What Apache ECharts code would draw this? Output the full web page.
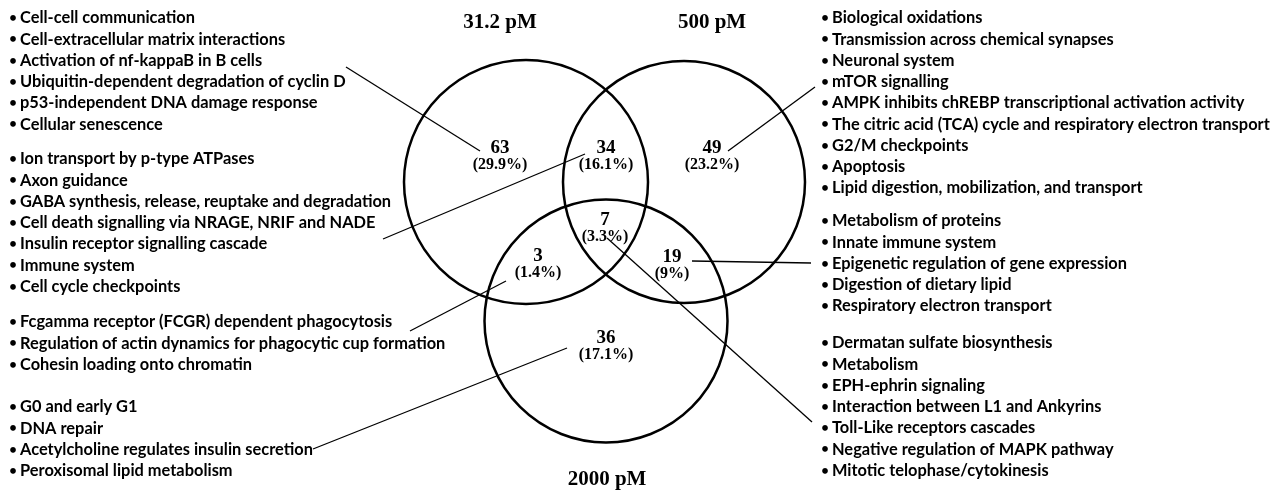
<!DOCTYPE html>
<html>
<head>
<meta charset="utf-8">
<script src="https://cdn.jsdelivr.net/npm/echarts@6/dist/echarts.min.js"></script>
<style>
  html, body { margin: 0; padding: 0; background: #fff; }
  #chart { width: 1282px; height: 491px; }
</style>
</head>
<body>
<div id="chart"></div>
<script>
// 三个浓度集合
var setNames = ['31.2 pM', '500 pM', '2000 pM'];
// 各区域: 仅31.2, 31.2∩500, 仅500, 31.2∩2000, 三者交集, 500∩2000, 仅2000
var regionCounts = [63, 34, 49, 3, 7, 19, 36];
var regionPercents = ['29.9%', '16.1%', '23.2%', '1.4%', '3.3%', '9%', '17.1%'];

// 通路列表
var listOnly31 = [
  'Cell-cell communication',
  'Cell-extracellular matrix interactions',
  'Activation of nf-kappaB in B cells',
  'Ubiquitin-dependent degradation of cyclin D',
  'p53-independent DNA damage response',
  'Cellular senescence'
];
var list31And500 = [
  'Ion transport by p-type ATPases',
  'Axon guidance',
  'GABA synthesis, release, reuptake and degradation',
  'Cell death signalling via NRAGE, NRIF and NADE',
  'Insulin receptor signalling cascade',
  'Immune system',
  'Cell cycle checkpoints'
];
var list31And2000 = [
  'Fcgamma receptor (FCGR) dependent phagocytosis',
  'Regulation of actin dynamics for phagocytic cup formation',
  'Cohesin loading onto chromatin'
];
var listOnly2000 = [
  'G0 and early G1',
  'DNA repair',
  'Acetylcholine regulates insulin secretion',
  'Peroxisomal lipid metabolism'
];
var listOnly500 = [
  'Biological oxidations',
  'Transmission across chemical synapses',
  'Neuronal system',
  'mTOR signalling',
  'AMPK inhibits chREBP transcriptional activation activity',
  'The citric acid (TCA) cycle and respiratory electron transport',
  'G2/M checkpoints',
  'Apoptosis',
  'Lipid digestion, mobilization, and transport'
];
var list500And2000 = [
  'Metabolism of proteins',
  'Innate immune system',
  'Epigenetic regulation of gene expression',
  'Digestion of dietary lipid',
  'Respiratory electron transport'
];
var listAllThree = [
  'Dermatan sulfate biosynthesis',
  'Metabolism',
  'EPH-ephrin signaling',
  'Interaction between L1 and Ankyrins',
  'Toll-Like receptors cascades',
  'Negative regulation of MAPK pathway',
  'Mitotic telophase/cytokinesis'
];

// ---- 布局 (像素坐标, 隐藏坐标轴) ----
var W = 1282, H = 491;
var circles = [[526, 182, 122], [684, 182, 121], [606, 321, 121.5]];
var titlePos = [[500, 23], [712, 23], [607, 480]];
var regionPos = [[500, 156], [606, 156], [712, 156], [538, 264], [605, 228], [672, 265], [606, 346]];
var lineStep = 21.25;
var listLayout = [
  { items: listOnly31, x: 20, y: 18 },
  { items: list31And500, x: 20, y: 159 },
  { items: list31And2000, x: 20, y: 322 },
  { items: listOnly2000, x: 20, y: 407 },
  { items: listOnly500, x: 832, y: 18 },
  { items: list500And2000, x: 832, y: 221 },
  { items: listAllThree, x: 832, y: 343 }
];
// 引线: 区域标签 -> 列表
var leaders = [
  [[480, 151], [346, 67]],
  [[585, 154], [383, 239]],
  [[728, 151], [815, 87]],
  [[506, 281], [410, 331]],
  [[567, 348], [313, 449]],
  [[692, 261], [811, 263]],
  [[607, 238], [812, 422]]
];

var textItems = [];
listLayout.forEach(function (g) {
  g.items.forEach(function (t, i) {
    textItems.push({ value: [g.x, g.y + i * lineStep], label: t });
  });
});

var listFont = 'bold 16.4px Lato, "Open Sans", sans-serif';
var serif = '"Liberation Serif", "Times New Roman", serif';

var chart = echarts.init(document.getElementById('chart'));
chart.setOption({
  animation: false,
  backgroundColor: '#fff',
  grid: { left: 0, right: 0, top: 0, bottom: 0 },
  xAxis: { type: 'value', min: 0, max: W, show: false },
  yAxis: { type: 'value', min: 0, max: H, inverse: true, show: false },
  series: [
    {
      name: 'circles',
      type: 'custom',
      data: circles,
      renderItem: function (params, api) {
        var c = api.coord([api.value(0), api.value(1)]);
        var r = api.size([api.value(2), 0])[0];
        return {
          type: 'circle',
          shape: { cx: c[0], cy: c[1], r: r },
          style: { fill: 'none', stroke: '#000', lineWidth: 2.5 }
        };
      }
    },
    {
      name: 'leaders',
      type: 'lines',
      coordinateSystem: 'cartesian2d',
      data: leaders.map(function (l) { return { coords: l }; }),
      lineStyle: { color: '#000', width: 1.3, opacity: 1 },
      silent: true
    },
    {
      name: 'titles',
      type: 'custom',
      data: titlePos,
      renderItem: function (params, api) {
        var p = api.coord([api.value(0), api.value(1)]);
        return {
          type: 'text',
          style: {
            text: setNames[params.dataIndex], x: p[0], y: p[1],
            align: 'center', verticalAlign: 'middle',
            font: 'bold 21px ' + serif, fill: '#000'
          }
        };
      }
    },
    {
      name: 'regions',
      type: 'custom',
      data: regionPos,
      renderItem: function (params, api) {
        var p = api.coord([api.value(0), api.value(1)]);
        var i = params.dataIndex;
        return {
          type: 'group',
          children: [
            {
              type: 'text',
              style: {
                text: String(regionCounts[i]), x: p[0], y: p[1] - 8,
                align: 'center', verticalAlign: 'middle',
                font: 'bold 19px ' + serif, fill: '#000'
              }
            },
            {
              type: 'text',
              style: {
                text: '(' + regionPercents[i] + ')', x: p[0], y: p[1] + 8.5,
                align: 'center', verticalAlign: 'middle',
                font: 'bold 16px ' + serif, fill: '#000'
              }
            }
          ]
        };
      }
    },
    {
      name: 'lists',
      type: 'custom',
      data: textItems,
      renderItem: function (params, api) {
        var p = api.coord([api.value(0), api.value(1)]);
        var d = textItems[params.dataIndex];
        return {
          type: 'group',
          children: [
            {
              type: 'text',
              style: {
                text: '•', x: p[0] - 7, y: p[1],
                align: 'center', verticalAlign: 'middle',
                font: 'bold 13px Lato, sans-serif', fill: '#000'
              }
            },
            {
              type: 'text',
              style: {
                text: d.label, x: p[0], y: p[1],
                align: 'left', verticalAlign: 'middle',
                font: listFont, fill: '#000'
              }
            }
          ]
        };
      }
    }
  ]
});
</script>
</body>
</html>
